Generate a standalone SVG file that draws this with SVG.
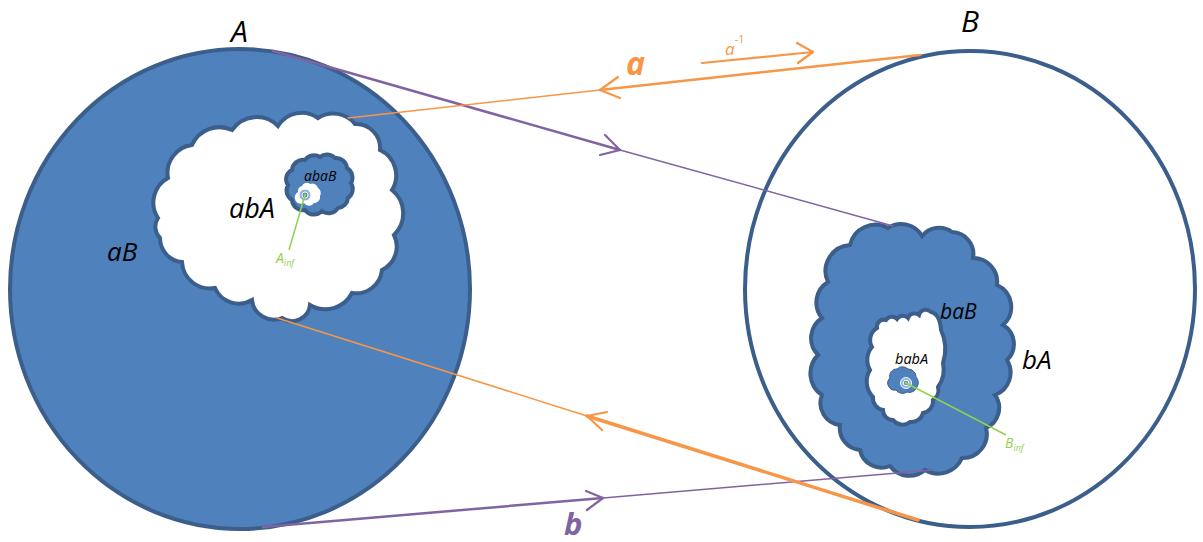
<svg xmlns="http://www.w3.org/2000/svg" width="1203" height="542" viewBox="0 0 1203 542">
<style>
.txt{font-family:"Open Sans","Noto Sans","Liberation Sans",sans-serif;font-style:italic;fill:#000}
.blue{fill:#4F81BD;stroke:#3B5E8B;stroke-width:4}
.white{fill:#FFFFFF;stroke:#3B5E8B;stroke-width:4}
.or{stroke:#F79646;fill:none;stroke-linecap:round;stroke-linejoin:round}
.pu{stroke:#8064A2;fill:none;stroke-linecap:round;stroke-linejoin:round}
.gr{stroke:#92D050;stroke-width:1.5;fill:none}
.gtxt{font-family:"Open Sans","Noto Sans","Liberation Sans",sans-serif;font-style:italic;fill:#92D050}
</style>
<rect width="1203" height="542" fill="#FFFFFF"/>
<g id="diskA">
<ellipse class="blue" cx="240" cy="289" rx="230" ry="240"/>
<text class="txt" x="231" y="42" font-size="30">A</text>
<text class="txt" x="107" y="261" font-size="26">aB</text>
</g>
<g id="diskB">
<ellipse class="white" cx="970" cy="289" rx="225" ry="238"/>
<text class="txt" x="961" y="32" font-size="30">B</text>
</g>
<g id="cloudA">
<path class="white" d="M158,218 A28,28 0 0 1 168,178 A28,28 0 0 1 192,145 A30,30 0 0 1 232,130 A30,30 0 0 1 278,126 A28,28 0 0 1 318,118 A28,28 0 0 1 355,124 A24,24 0 0 1 380,150 A28,28 0 0 1 392,190 A30,30 0 0 1 394,235 A26,26 0 0 1 382,270 A26,26 0 0 1 352,293 A30,30 0 0 1 310,305 A18,18 0 0 1 282,318 A22,22 0 0 1 252,300 A26,26 0 0 1 215,288 A28,28 0 0 1 182,262 A24,24 0 0 1 160,238 A16,16 0 0 1 158,218 Z"/>
<text class="txt" x="229" y="218" font-size="27">abA</text>
</g>
<g id="cloudABA">
<path class="blue" stroke-width="3" d="M288,185 A10,10 0 0 1 292,170 A11,11 0 0 1 305,160 A11,11 0 0 1 320,157 A11,11 0 0 1 335,158 A11,11 0 0 1 347,168 A11,11 0 0 1 351,183 A11,11 0 0 1 348,198 A11,11 0 0 1 338,208 A11,11 0 0 1 322,211 A11,11 0 0 1 305,210 A11,11 0 0 1 292,200 A11,11 0 0 1 288,185 Z"/>
<path fill="#FFFFFF" d="M298,192 A5,5 0 0 1 302,186 A5,5 0 0 1 310,184 A6,6 0 0 1 318,188 A6,6 0 0 1 320,196 A6,6 0 0 1 314,203 A6,6 0 0 1 304,203 A5,5 0 0 1 298,192 Z"/>
<text class="txt" x="304" y="181" font-size="14">abaB</text>
</g>
<g id="Ainf">
<circle cx="305" cy="195" r="6" fill="#8DB3E2" stroke="#FFFFFF" stroke-width="1"/>
<circle cx="305" cy="195" r="3" fill="#4F81BD" stroke="#FFFFFF" stroke-width="1"/>
<circle cx="305" cy="195" r="1.5" fill="#92D050"/>
<line class="gr" x1="305" y1="195" x2="289" y2="250"/>
<text class="gtxt" x="276" y="263" font-size="14">A<tspan font-size="9" dy="3">inf</tspan></text>
</g>
<g id="cloudB">
<path class="blue" d="M828,282 A26,26 0 0 1 850,245 A26,26 0 0 1 888,228 A24,24 0 0 1 922,236 A22,22 0 0 1 952,232 A22,22 0 0 1 973,258 A24,24 0 0 1 997,285 A24,24 0 0 1 1003,325 A22,22 0 0 1 1007,360 A24,24 0 0 1 995,395 A22,22 0 0 1 986,428 A24,24 0 0 1 962,458 A26,26 0 0 1 925,470 A24,24 0 0 1 890,466 A22,22 0 0 1 860,450 A22,22 0 0 1 840,425 A22,22 0 0 1 822,395 A26,26 0 0 1 818,355 A24,24 0 0 1 822,318 A24,24 0 0 1 828,282 Z"/>
<path class="white" stroke-width="3" d="M877,328 A7,7 0 0 1 886,320 A7,7 0 0 1 897,319 A7,7 0 0 1 908,318 A7,7 0 0 1 919,315 A7,7 0 0 1 931,312 Q940,314 941,330 A45,45 0 0 1 943,363 A30,30 0 0 1 938,387 A12,12 0 0 1 933,400 A12,12 0 0 1 923,413 A12,12 0 0 1 910,422 A12,12 0 0 1 893,420 A10,10 0 0 1 883,410 A12,12 0 0 1 873,397 A22,22 0 0 1 870,370 A20,20 0 0 1 872,347 A14,14 0 0 1 877,328 Z"/>
<path fill="#4F81BD" stroke="#3B5E8B" stroke-width="1" d="M890,378 A7,7 0 0 1 897,369 A8,8 0 0 1 908,369 A8,8 0 0 1 916,377 A8,8 0 0 1 917,387 A8,8 0 0 1 907,392 A8,8 0 0 1 896,390 A7,7 0 0 1 890,378 Z"/>
<text class="txt" x="940" y="319" font-size="21">baB</text>
<text class="txt" x="895" y="364" font-size="14.5">babA</text>
<text class="txt" x="1022" y="369" font-size="26">bA</text>
</g>
<g id="Binf">
<circle cx="906" cy="383" r="5.5" fill="#8DB3E2" stroke="#FFFFFF" stroke-width="1"/>
<circle cx="906" cy="383" r="2.8" fill="#4F81BD" stroke="#FFFFFF" stroke-width="1"/>
<circle cx="906" cy="383" r="1.5" fill="#92D050"/>
<line class="gr" x1="906" y1="383" x2="1006" y2="435"/>
<text class="gtxt" x="1005" y="448" font-size="14">B<tspan font-size="9" dy="3">inf</tspan></text>
</g>
<g id="connectors">
<line class="pu" stroke-width="2.5" x1="273" y1="51" x2="620" y2="150"/>
<line class="pu" stroke-width="1.5" x1="620" y1="150" x2="893" y2="226"/>
<polyline class="pu" stroke-width="2.2" points="605,135 620,150 600,155"/>
<line class="pu" stroke-width="2.5" x1="263" y1="527" x2="603" y2="498"/>
<line class="pu" stroke-width="1.5" x1="603" y1="498" x2="933" y2="470"/>
<polyline class="pu" stroke-width="2.2" points="586,491 603,498 587,510"/>
<line class="or" stroke-width="2.5" x1="920" y1="55" x2="600" y2="90"/>
<line class="or" stroke-width="1.5" x1="600" y1="90" x2="348" y2="118"/>
<polyline class="or" stroke-width="2.2" points="618,77 600,90 620,98"/>
<line class="or" stroke-width="2.2" x1="702" y1="63" x2="813" y2="52"/>
<polyline class="or" stroke-width="2.2" points="797,43 813,52 798,63"/>
<line class="or" stroke-width="3.5" x1="918" y1="520" x2="587" y2="416"/>
<line class="or" stroke-width="1.5" x1="587" y1="416" x2="277" y2="318"/>
<polyline class="or" stroke-width="2.2" points="607,412 587,416 602,430"/>
<text x="626" y="75" font-size="32" font-weight="bold" font-style="italic" font-family="Open Sans, Noto Sans, Liberation Sans, sans-serif" fill="#F79646">a</text>
<text x="725" y="55" font-size="17" font-style="italic" font-family="Open Sans, Noto Sans, Liberation Sans, sans-serif" fill="#F79646">a<tspan font-size="11" dy="-12" font-style="normal">-1</tspan></text>
<text x="564" y="535" font-size="31" font-weight="bold" font-style="italic" font-family="Open Sans, Noto Sans, Liberation Sans, sans-serif" fill="#8064A2">b</text>
</g>
</svg>
